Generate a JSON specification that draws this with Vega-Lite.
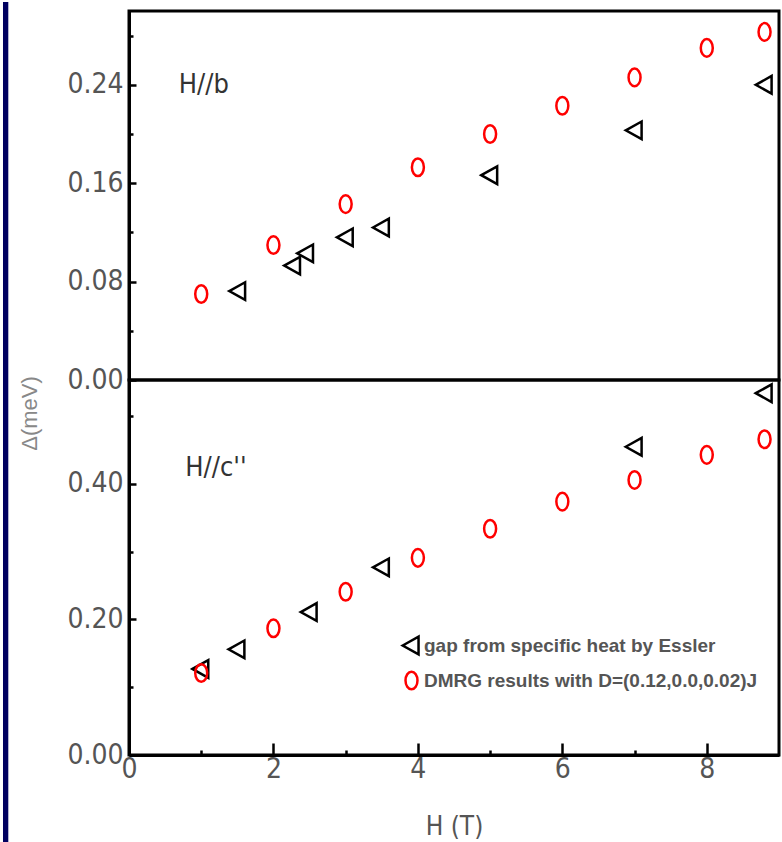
{
  "$schema": "https://vega.github.io/schema/vega-lite/v6.json",
  "background": "white",
  "padding": {"left": 1, "top": 0, "right": 0, "bottom": 0},
  "bounds": "flush",
  "spacing": 0,
  "resolve": {"legend": {"color": "independent", "shape": "independent"}},
  "config": {
    "view": {"stroke": "black", "strokeWidth": 3},
    "axis": {
      "grid": false,
      "domainColor": "black",
      "domainWidth": 3,
      "tickColor": "black",
      "tickWidth": 2.5,
      "labelFont": "DejaVu Sans Condensed, Liberation Sans, sans-serif",
      "labelFontSize": 28,
      "labelColor": "#555555",
      "labelFlush": false,
      "titleFont": "DejaVu Sans Condensed, Liberation Sans, sans-serif",
      "titleFontWeight": "normal"
    }
  },
  "datasets": {
    "pts": [
      {"panel": "b", "series": "gap from specific heat by Essler", "H": 1.51, "gap": 0.0723},
      {"panel": "b", "series": "gap from specific heat by Essler", "H": 2.27, "gap": 0.093},
      {"panel": "b", "series": "gap from specific heat by Essler", "H": 2.45, "gap": 0.103},
      {"panel": "b", "series": "gap from specific heat by Essler", "H": 3.0, "gap": 0.116},
      {"panel": "b", "series": "gap from specific heat by Essler", "H": 3.5, "gap": 0.124},
      {"panel": "b", "series": "gap from specific heat by Essler", "H": 5.0, "gap": 0.1665},
      {"panel": "b", "series": "gap from specific heat by Essler", "H": 7.0, "gap": 0.203},
      {"panel": "b", "series": "gap from specific heat by Essler", "H": 8.8, "gap": 0.240},
      {"panel": "b", "series": "DMRG results with D=(0.12,0.0,0.02)J", "H": 1, "gap": 0.0699},
      {"panel": "b", "series": "DMRG results with D=(0.12,0.0,0.02)J", "H": 2, "gap": 0.1097},
      {"panel": "b", "series": "DMRG results with D=(0.12,0.0,0.02)J", "H": 3, "gap": 0.143},
      {"panel": "b", "series": "DMRG results with D=(0.12,0.0,0.02)J", "H": 4, "gap": 0.173},
      {"panel": "b", "series": "DMRG results with D=(0.12,0.0,0.02)J", "H": 5, "gap": 0.200},
      {"panel": "b", "series": "DMRG results with D=(0.12,0.0,0.02)J", "H": 6, "gap": 0.223},
      {"panel": "b", "series": "DMRG results with D=(0.12,0.0,0.02)J", "H": 7, "gap": 0.246},
      {"panel": "b", "series": "DMRG results with D=(0.12,0.0,0.02)J", "H": 8, "gap": 0.270},
      {"panel": "b", "series": "DMRG results with D=(0.12,0.0,0.02)J", "H": 8.8, "gap": 0.283},
      {"panel": "c", "series": "gap from specific heat by Essler", "H": 1.0, "gap": 0.127},
      {"panel": "c", "series": "gap from specific heat by Essler", "H": 1.5, "gap": 0.156},
      {"panel": "c", "series": "gap from specific heat by Essler", "H": 2.5, "gap": 0.211},
      {"panel": "c", "series": "gap from specific heat by Essler", "H": 3.5, "gap": 0.277},
      {"panel": "c", "series": "gap from specific heat by Essler", "H": 7.0, "gap": 0.455},
      {"panel": "c", "series": "gap from specific heat by Essler", "H": 8.8, "gap": 0.534},
      {"panel": "c", "series": "DMRG results with D=(0.12,0.0,0.02)J", "H": 1, "gap": 0.121},
      {"panel": "c", "series": "DMRG results with D=(0.12,0.0,0.02)J", "H": 2, "gap": 0.187},
      {"panel": "c", "series": "DMRG results with D=(0.12,0.0,0.02)J", "H": 3, "gap": 0.241},
      {"panel": "c", "series": "DMRG results with D=(0.12,0.0,0.02)J", "H": 4, "gap": 0.291},
      {"panel": "c", "series": "DMRG results with D=(0.12,0.0,0.02)J", "H": 5, "gap": 0.334},
      {"panel": "c", "series": "DMRG results with D=(0.12,0.0,0.02)J", "H": 6, "gap": 0.374},
      {"panel": "c", "series": "DMRG results with D=(0.12,0.0,0.02)J", "H": 7, "gap": 0.406},
      {"panel": "c", "series": "DMRG results with D=(0.12,0.0,0.02)J", "H": 8, "gap": 0.443},
      {"panel": "c", "series": "DMRG results with D=(0.12,0.0,0.02)J", "H": 8.8, "gap": 0.466}
    ]
  },
  "vconcat": [
    {
      "width": 650,
      "height": 369,
      "layer": [
        {
          "data": {"name": "pts"},
          "transform": [{"filter": "datum.panel == 'b'"}],
          "mark": {"type": "point", "filled": false, "strokeWidth": 2.5, "size": 310, "opacity": 1},
          "encoding": {
            "x": {"field": "H", "type": "quantitative", "scale": {"domain": [0, 9], "nice": false, "zero": false}, "axis": null},
            "y": {
              "field": "gap", "type": "quantitative",
              "scale": {"domain": [0, 0.30], "nice": false, "zero": false},
              "axis": {
                "title": null,
                "values": [0, 0.04, 0.08, 0.12, 0.16, 0.2, 0.24, 0.28],
                "labelExpr": "indexof([0, 0.08, 0.16, 0.24], datum.value) >= 0 ? format(datum.value, '.2f') : ''",
                "tickSize": {"condition": {"test": "indexof([0, 0.08, 0.16, 0.24], datum.value) >= 0", "value": -7}, "value": -4},
                "labelPadding": 13
              }
            },
            "color": {
              "field": "series", "type": "nominal",
              "scale": {"domain": ["gap from specific heat by Essler", "DMRG results with D=(0.12,0.0,0.02)J"], "range": ["black", "#ff0000"]},
              "legend": null
            },
            "shape": {
              "field": "series", "type": "nominal",
              "scale": {"domain": ["gap from specific heat by Essler", "DMRG results with D=(0.12,0.0,0.02)J"], "range": ["M -1,0 L 0.8,-1 L 0.8,1 Z", "M -0.68,0 A 0.68,1 0 1,0 0.68,0 A 0.68,1 0 1,0 -0.68,0 Z"]},
              "legend": null
            }
          }
        },
        {
          "data": {"values": [{"label": "H//b"}]},
          "mark": {"type": "text", "align": "left", "baseline": "middle", "font": "DejaVu Sans Condensed, Liberation Sans, sans-serif", "fontSize": 27, "color": "#333333"},
          "encoding": {
            "x": {"datum": 0.69, "type": "quantitative"},
            "y": {"datum": 0.2398, "type": "quantitative"},
            "text": {"field": "label"}
          }
        },
        {
          "data": {"values": [{"edge": "frame"}]},
          "mark": {"type": "rect", "color": "#000060"},
          "encoding": {
            "x": {"datum": -1.7447, "type": "quantitative"},
            "x2": {"datum": -1.6712},
            "y": {"datum": 0.30732, "type": "quantitative"},
            "y2": {"datum": -0.37724}
          }
        }
      ]
    },
    {
      "width": 650,
      "height": 375,
      "layer": [
        {
          "data": {"name": "pts"},
          "transform": [{"filter": "datum.panel == 'c'"}],
          "mark": {"type": "point", "filled": false, "strokeWidth": 2.5, "size": 310, "opacity": 1},
          "encoding": {
            "x": {
              "field": "H", "type": "quantitative",
              "scale": {"domain": [0, 9], "nice": false, "zero": false},
              "axis": {
                "title": "H (T)",
                "titleFontSize": 26,
                "titleColor": "#555555",
                "titlePadding": 30,
                "values": [0, 0.5, 1, 1.5, 2, 2.5, 3, 3.5, 4, 4.5, 5, 5.5, 6, 6.5, 7, 7.5, 8, 8.5],
                "labelExpr": "datum.value % 2 == 0 ? format(datum.value, 'd') : ''",
                "tickSize": {"condition": {"test": "datum.value % 2 == 0", "value": -12}, "value": -5},
                "labelPadding": 12
              }
            },
            "y": {
              "field": "gap", "type": "quantitative",
              "scale": {"domain": [0, 0.5535], "nice": false, "zero": false},
              "axis": {
                "title": "Δ(meV)",
                "titleFont": "Liberation Sans",
                "titleFontSize": 22,
                "titleColor": "#888888",
                "titleAngle": 270,
                "titleAlign": "center",
                "titleBaseline": "middle",
                "titleX": -100,
                "titleY": 33,
                "values": [0, 0.05, 0.1, 0.15, 0.2, 0.25, 0.3, 0.35, 0.4, 0.45, 0.5],
                "labelExpr": "indexof([0, 0.2, 0.4], datum.value) >= 0 ? format(datum.value, '.2f') : ''",
                "tickSize": {"condition": {"test": "indexof([0, 0.2, 0.4], datum.value) >= 0", "value": -7}, "value": -4},
                "labelPadding": 13
              }
            },
            "color": {
              "field": "series", "type": "nominal",
              "scale": {"domain": ["gap from specific heat by Essler", "DMRG results with D=(0.12,0.0,0.02)J"], "range": ["black", "#ff0000"]},
              "legend": {
                "orient": "none",
                "legendX": 272,
                "legendY": 255,
                "title": null,
                "padding": 0,
                "labelFont": "Liberation Sans",
                "labelFontWeight": "bold",
                "labelFontSize": 19,
                "labelColor": "#555555",
                "labelOffset": 2,
                "symbolSize": 310,
                "symbolStrokeWidth": 2.5,
                "rowPadding": 6,
                "labelLimit": 400
              }
            },
            "shape": {
              "field": "series", "type": "nominal",
              "scale": {"domain": ["gap from specific heat by Essler", "DMRG results with D=(0.12,0.0,0.02)J"], "range": ["M -1,0 L 0.8,-1 L 0.8,1 Z", "M -0.68,0 A 0.68,1 0 1,0 0.68,0 A 0.68,1 0 1,0 -0.68,0 Z"]}
            }
          }
        },
        {
          "data": {"values": [{"label": "H//c''"}]},
          "mark": {"type": "text", "align": "left", "baseline": "middle", "font": "DejaVu Sans Condensed, Liberation Sans, sans-serif", "fontSize": 27, "color": "#333333"},
          "encoding": {
            "x": {"datum": 0.78, "type": "quantitative"},
            "y": {"datum": 0.4236, "type": "quantitative"},
            "text": {"field": "label"}
          }
        }
      ]
    }
  ]
}
